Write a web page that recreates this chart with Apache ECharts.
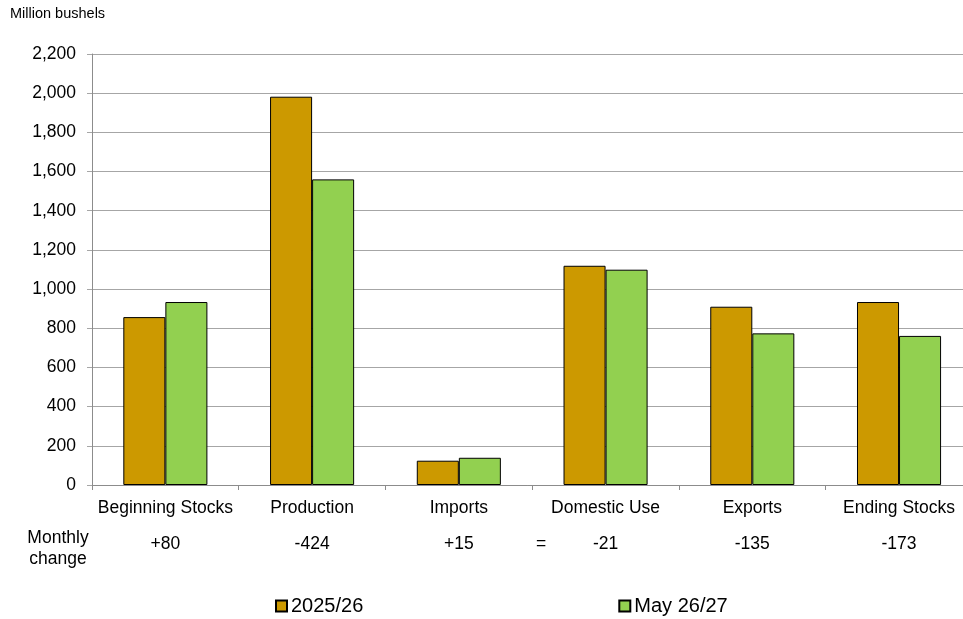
<!DOCTYPE html>
<html>
<head>
<meta charset="utf-8">
<script src="https://cdn.jsdelivr.net/npm/echarts@6/dist/echarts.min.js"></script>
<style>
html,body{margin:0;padding:0;background:#fff;overflow:hidden;}
#chart{width:963px;height:619px;}
</style>
</head>
<body>
<div id="chart"></div>
<script>
var categories = ['Beginning Stocks', 'Production', 'Imports', 'Domestic Use', 'Exports', 'Ending Stocks'];
var series2025 = [857, 1982, 124, 1119, 910, 934];
var seriesMay2627 = [934, 1560, 139, 1099, 774, 761];
var monthlyChange = ['+80', '-424', '+15', '-21', '-135', '-173'];
var seriesNames = ['2025/26', 'May 26/27'];
var yTicks = {min: 0, max: 2200, interval: 200};

var FONT = '"Liberation Sans", Arial, sans-serif';
var chart = echarts.init(document.getElementById('chart'), null, {renderer: 'canvas'});

var option = {
  animation: false,
  backgroundColor: '#fff',
  textStyle: {fontFamily: FONT, color: '#000'},
  grid: {left: 92, top: 54, height: 431, width: 880.4, containLabel: false, outerBoundsMode: 'none'},
  legend: {
    left: 270, top: 591,
    itemWidth: 11, itemHeight: 11, itemGap: 255,
    icon: 'rect',
    textStyle: {fontFamily: FONT, fontSize: 20, color: '#000', padding: [0, 0, 0, -1]},
    data: seriesNames
  },
  xAxis: [{
    type: 'category',
    data: categories,
    position: 'bottom',
    axisLine: {lineStyle: {color: '#8c8c8c', width: 1}},
    axisTick: {show: true, length: 5, lineStyle: {color: '#8c8c8c'}},
    axisLabel: {fontFamily: FONT, fontSize: 17.5, color: '#000', margin: 14, interval: 0}
  }, {
    type: 'category',
    data: monthlyChange,
    position: 'bottom',
    offset: 36,
    axisLine: {show: false},
    axisTick: {show: false},
    axisLabel: {fontFamily: FONT, fontSize: 17.5, color: '#000', margin: 14, interval: 0}
  }],
  yAxis: {
    type: 'value',
    min: yTicks.min, max: yTicks.max, interval: yTicks.interval,
    axisLine: {show: true, lineStyle: {color: '#8c8c8c', width: 1}},
    axisTick: {show: true, length: 5, lineStyle: {color: '#a6a6a6'}},
    splitLine: {lineStyle: {color: '#a6a6a6', width: 1}},
    axisLabel: {
      fontFamily: FONT, fontSize: 17.5, color: '#000', margin: 16,
      formatter: function (v) { return v.toLocaleString('en-US'); }
    }
  },
  series: [{
    name: seriesNames[0], type: 'bar', data: series2025,
    barGap: '0%', barCategoryGap: '42.7%',
    itemStyle: {color: '#CC9900', borderColor: '#000', borderWidth: 1}
  }, {
    name: seriesNames[1], type: 'bar', data: seriesMay2627,
    barGap: '0%', barCategoryGap: '42.7%',
    itemStyle: {color: '#92D050', borderColor: '#000', borderWidth: 1}
  }]
};
chart.setOption(option);

// Annotations positioned from the axis scale
var pImports = chart.convertToPixel({xAxisIndex: 0}, 'Imports');
var pDom = chart.convertToPixel({xAxisIndex: 0}, 'Domestic Use');
var y0 = chart.convertToPixel({yAxisIndex: 0}, 0);
chart.setOption({
  graphic: [{
    type: 'text', left: 10, top: 6,
    style: {text: 'Million bushels', fontFamily: FONT, fontSize: 14.5, fill: '#000'}
  }, {
    type: 'text', x: 58, y: y0 + 64,
    style: {text: 'Monthly\nchange', fontFamily: FONT, fontSize: 17.5, lineHeight: 21, fill: '#000', align: 'center', verticalAlign: 'middle'}
  }, {
    type: 'text', x: (pImports + pDom) / 2 + 9, y: y0 + 59,
    style: {text: '=', fontFamily: FONT, fontSize: 17.5, fill: '#000', align: 'center', verticalAlign: 'middle'}
  }]
});
</script>
</body>
</html>
